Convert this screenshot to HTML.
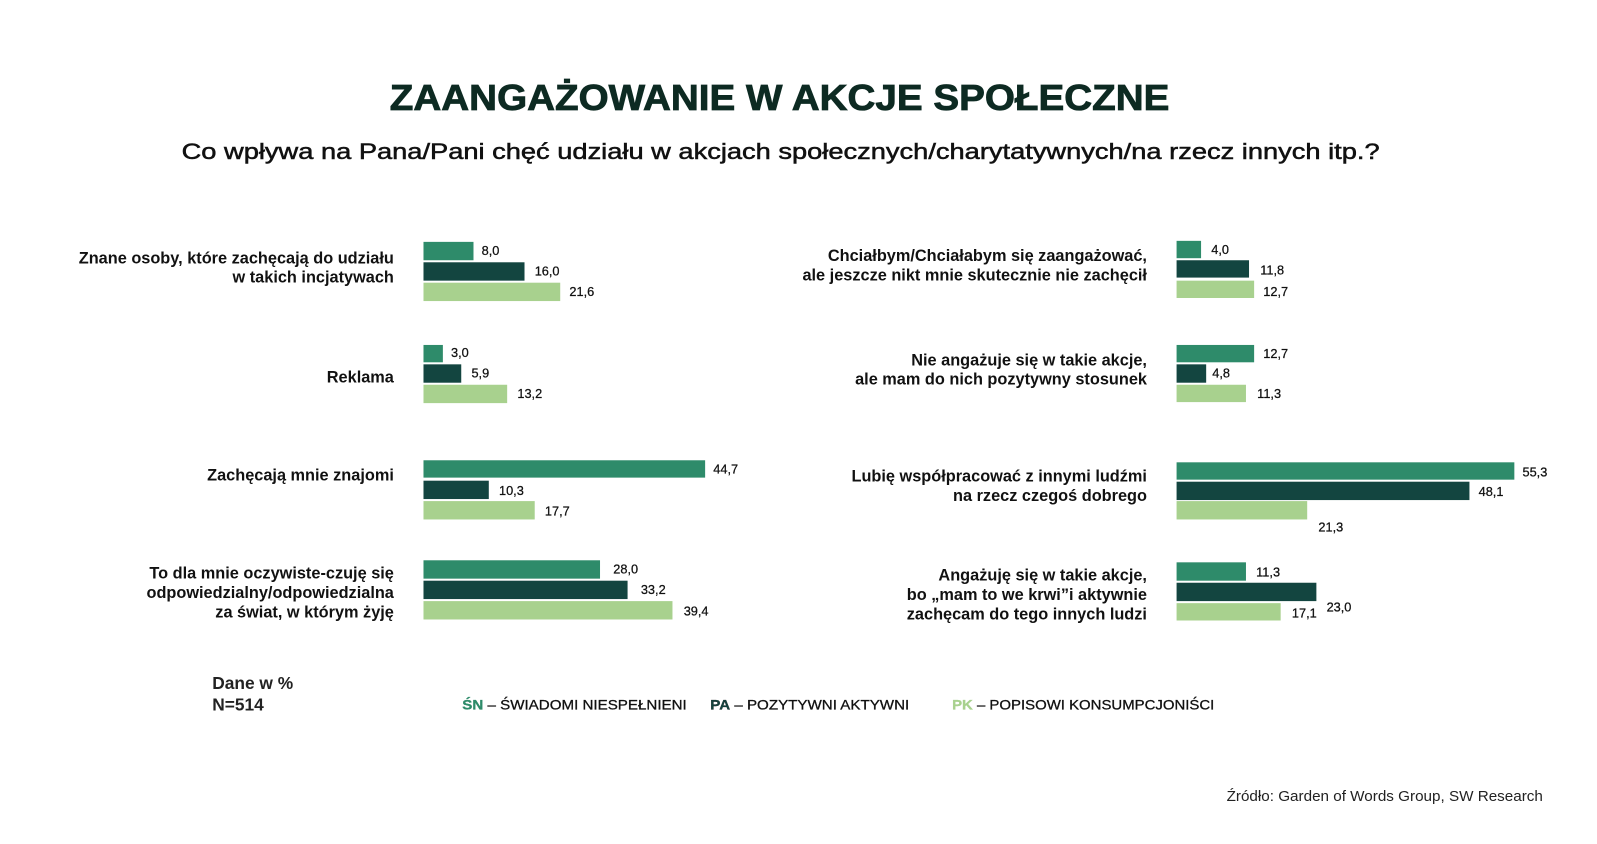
<!DOCTYPE html>
<html><head><meta charset="utf-8"><style>
html,body{margin:0;padding:0;background:#fff;}
svg{display:block;font-family:"Liberation Sans",sans-serif;}
.l{font-size:16px;font-weight:bold;fill:#111;}
.v{font-size:12.5px;fill:#111;}
</style></head><body>
<svg width="1597" height="844" viewBox="0 0 1565 827" preserveAspectRatio="none">
<rect width="1565" height="827" fill="#fff"/>
<text x="764" y="108" text-anchor="middle" font-size="35" font-weight="bold" fill="#0d2a22" stroke="#0d2a22" stroke-width="0.8" textLength="764" lengthAdjust="spacingAndGlyphs">ZAANGAŻOWANIE W AKCJE SPOŁECZNE</text>
<text x="765" y="156" text-anchor="middle" font-size="22" fill="#111" stroke="#111" stroke-width="0.5" textLength="1174" lengthAdjust="spacingAndGlyphs">Co wpływa na Pana/Pani chęć udziału w akcjach społecznych/charytatywnych/na rzecz innych itp.?</text>

<g class="l" text-anchor="end">
<text x="386" y="258">Znane osoby, które zachęcają do udziału</text>
<text x="386" y="277">w takich incjatywach</text>
<text x="386" y="375">Reklama</text>
<text x="386" y="471">Zachęcają mnie znajomi</text>
<text x="386" y="567">To dla mnie oczywiste-czuję się</text>
<text x="386" y="586">odpowiedzialny/odpowiedzialna</text>
<text x="386" y="605">za świat, w którym żyję</text>
</g>
<g class="l" text-anchor="end">
<text x="1124" y="256">Chciałbym/Chciałabym się zaangażować,</text>
<text x="1124" y="275">ale jeszcze nikt mnie skutecznie nie zachęcił</text>
<text x="1124" y="358">Nie angażuje się w takie akcje,</text>
<text x="1124" y="377">ale mam do nich pozytywny stosunek</text>
<text x="1124" y="472">Lubię współpracować z innymi ludźmi</text>
<text x="1124" y="491">na rzecz czegoś dobrego</text>
<text x="1124" y="569">Angażuję się w takie akcje,</text>
<text x="1124" y="588">bo „mam to we krwi”i aktywnie</text>
<text x="1124" y="607">zachęcam do tego innych ludzi</text>
</g>

<g>
<rect x="415" y="237" width="49" height="18" fill="#2e8b6a"/>
<rect x="415" y="257" width="99" height="18" fill="#134540"/>
<rect x="415" y="277" width="134" height="18" fill="#a8d18e"/>
<rect x="415" y="338" width="19" height="17" fill="#2e8b6a"/>
<rect x="415" y="357" width="37" height="18" fill="#134540"/>
<rect x="415" y="377" width="82" height="18" fill="#a8d18e"/>
<rect x="415" y="451" width="276" height="17" fill="#2e8b6a"/>
<rect x="415" y="471" width="64" height="18" fill="#134540"/>
<rect x="415" y="491" width="109" height="18" fill="#a8d18e"/>
<rect x="415" y="549" width="173" height="18" fill="#2e8b6a"/>
<rect x="415" y="569" width="200" height="18" fill="#134540"/>
<rect x="415" y="589" width="244" height="18" fill="#a8d18e"/>
</g>
<g class="v" stroke="#111" stroke-width="0.25">
<text x="472" y="250">8,0</text>
<text x="524" y="270">16,0</text>
<text x="558" y="290">21,6</text>
<text x="442" y="350">3,0</text>
<text x="462" y="370">5,9</text>
<text x="507" y="390">13,2</text>
<text x="699" y="464">44,7</text>
<text x="489" y="485">10,3</text>
<text x="534" y="505">17,7</text>
<text x="601" y="562">28,0</text>
<text x="628" y="582">33,2</text>
<text x="670" y="603">39,4</text>
</g>

<g>
<rect x="1153" y="236" width="24" height="17" fill="#2e8b6a"/>
<rect x="1153" y="255" width="71" height="17" fill="#134540"/>
<rect x="1153" y="275" width="76" height="17" fill="#a8d18e"/>
<rect x="1153" y="338" width="76" height="17" fill="#2e8b6a"/>
<rect x="1153" y="357" width="29" height="18" fill="#134540"/>
<rect x="1153" y="377" width="68" height="17" fill="#a8d18e"/>
<rect x="1153" y="453" width="331" height="17" fill="#2e8b6a"/>
<rect x="1153" y="472" width="287" height="18" fill="#134540"/>
<rect x="1153" y="491" width="128" height="18" fill="#a8d18e"/>
<rect x="1153" y="551" width="68" height="18" fill="#2e8b6a"/>
<rect x="1153" y="571" width="137" height="18" fill="#134540"/>
<rect x="1153" y="591" width="102" height="17" fill="#a8d18e"/>
</g>
<g class="v" font-size="12" stroke="#111" stroke-width="0.25">
<text x="1187" y="249">4,0</text>
<text x="1235" y="269">11,8</text>
<text x="1238" y="290">12,7</text>
<text x="1238" y="351">12,7</text>
<text x="1188" y="370">4,8</text>
<text x="1232" y="390">11,3</text>
<text x="1492" y="467">55,3</text>
<text x="1449" y="486">48,1</text>
<text x="1292" y="521">21,3</text>
<text x="1231" y="565">11,3</text>
<text x="1300" y="599">23,0</text>
<text x="1266" y="605">17,1</text>
</g>

<text x="208" y="675" font-size="17" font-weight="bold" fill="#222">Dane w %</text>
<text x="208" y="696" font-size="17" font-weight="bold" fill="#222">N=514</text>
<g font-size="14" fill="#111" stroke="#111" stroke-width="0.3">
<text x="453" y="695" textLength="220" lengthAdjust="spacingAndGlyphs"><tspan fill="#2e8b6a" stroke="#2e8b6a" font-weight="bold">ŚN</tspan> – ŚWIADOMI NIESPEŁNIENI</text>
<text x="696" y="695" textLength="195" lengthAdjust="spacingAndGlyphs"><tspan fill="#134540" font-weight="bold">PA</tspan> – POZYTYWNI AKTYWNI</text>
<text x="933" y="695" textLength="257" lengthAdjust="spacingAndGlyphs"><tspan fill="#a8d18e" stroke="#a8d18e" font-weight="bold">PK</tspan> – POPISOWI KONSUMPCJONIŚCI</text>
</g>
<text x="1512" y="785" text-anchor="end" font-size="14.5" fill="#222" textLength="310" lengthAdjust="spacingAndGlyphs">Źródło: Garden of Words Group, SW Research</text>
</svg>
</body></html>
